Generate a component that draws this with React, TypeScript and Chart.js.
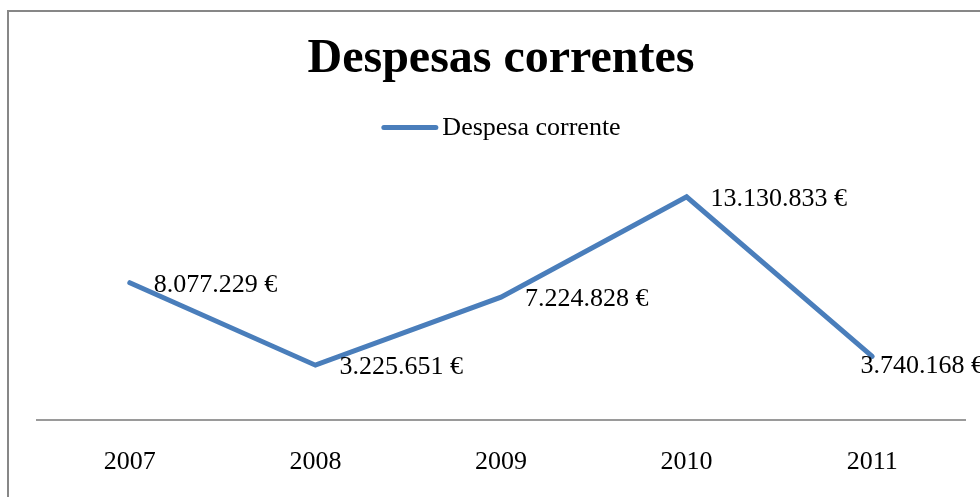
import React, { useEffect, useRef } from "react";
import { Chart, registerables } from "chart.js";

Chart.register(...registerables);

const TITLE = "Despesas correntes";
const SERIES_LABEL = "Despesa corrente";
const YEARS = ["2007", "2008", "2009", "2010", "2011"];
const VALUES = [8077229, 3225651, 7224828, 13130833, 3740168];
const Y_MAX = 14000000;

const LINE_COLOR = "#4A7EBB";
const FONT = "'Liberation Serif', 'Times New Roman', serif";

function fmt(v: number): string {
  return String(v).replace(/\B(?=(\d{3})+(?!\d))/g, ".") + " €";
}

const framePlugin = {
  id: "frame",
  beforeDraw(chart: any) {
    const ctx = chart.ctx;
    ctx.save();
    ctx.fillStyle = "#ffffff";
    ctx.fillRect(0, 0, chart.width, chart.height);
    ctx.strokeStyle = "#878787";
    ctx.lineWidth = 2;
    ctx.strokeRect(8, 11, 986, 520);
    ctx.restore();
  },
};

const customLegendPlugin = {
  id: "customLegend",
  afterDraw(chart: any) {
    const ctx = chart.ctx;
    const ds = chart.data.datasets[0];
    const area = chart.chartArea;
    const cx = (area.left + area.right) / 2;
    const cy = area.top - 54.5;
    ctx.save();
    ctx.font = `26px ${FONT}`;
    const tw = ctx.measureText(ds.label).width;
    const lineW = 57;
    const gap = 4;
    const total = lineW + gap + tw;
    const x0 = cx - total / 2;
    ctx.strokeStyle = ds.borderColor;
    ctx.lineWidth = 5;
    ctx.lineCap = "round";
    ctx.beginPath();
    ctx.moveTo(x0 + 2.5, cy);
    ctx.lineTo(x0 + lineW - 2.5, cy);
    ctx.stroke();
    ctx.fillStyle = "#000000";
    ctx.textAlign = "left";
    ctx.textBaseline = "middle";
    ctx.fillText(ds.label, x0 + lineW + gap, cy + 1);
    ctx.restore();
  },
};

const dataLabelPlugin = {
  id: "dataLabels",
  afterDatasetsDraw(chart: any) {
    const ctx = chart.ctx;
    const meta = chart.getDatasetMeta(0);
    const data = chart.data.datasets[0].data;
    ctx.save();
    ctx.font = `26px ${FONT}`;
    ctx.fillStyle = "#000000";
    ctx.textAlign = "left";
    ctx.textBaseline = "middle";
    const limit = chart.width + 4;
    meta.data.forEach((pt: any, i: number) => {
      const text = fmt(data[i]);
      const w = ctx.measureText(text).width;
      let x = pt.x + 24;
      let y = pt.y + 2;
      if (x + w > limit) {
        x = limit - w;
        y = pt.y + 10;
      }
      ctx.fillText(text, x, y);
    });
    ctx.restore();
  },
};

export default function App() {
  const ref = useRef<HTMLCanvasElement | null>(null);

  useEffect(() => {
    if (!ref.current) return;
    const chart = new Chart(ref.current, {
      type: "line",
      data: {
        labels: YEARS,
        datasets: [
          {
            label: SERIES_LABEL,
            data: VALUES,
            borderColor: LINE_COLOR,
            backgroundColor: LINE_COLOR,
            borderWidth: 5,
            pointRadius: 0,
            pointHoverRadius: 0,
            tension: 0,
            borderJoinStyle: "miter",
            borderCapStyle: "round",
            fill: false,
          },
        ],
      },
      options: {
        responsive: false,
        maintainAspectRatio: false,
        animation: false,
        layout: { padding: { left: 37, right: 15, top: 0, bottom: 18.8 } },
        plugins: {
          legend: { display: false },
          tooltip: { enabled: false },
          title: {
            display: true,
            text: TITLE,
            color: "#000000",
            font: { family: FONT, size: 48, weight: "bold" },
            padding: { top: 30.4, bottom: 94 },
          },
        },
        scales: {
          x: {
            offset: true,
            grid: { display: false, drawTicks: false },
            border: { display: true, color: "#9a9a9a", width: 2 },
            ticks: {
              color: "#000000",
              font: { family: FONT, size: 26 },
              padding: 27,
              maxRotation: 0,
            },
            afterFit(scale: any) {
              scale.height = 27 + 26 * 1.2;
            },
          },
          y: {
            display: false,
            min: 0,
            max: Y_MAX,
          },
        },
      },
      plugins: [framePlugin, customLegendPlugin, dataLabelPlugin],
    });
    return () => chart.destroy();
  }, []);

  return (
    <div style={{ position: "fixed", left: 0, top: 0, width: 980, height: 497 }}>
      <canvas ref={ref} width={980} height={497} style={{ display: "block" }} />
    </div>
  );
}
